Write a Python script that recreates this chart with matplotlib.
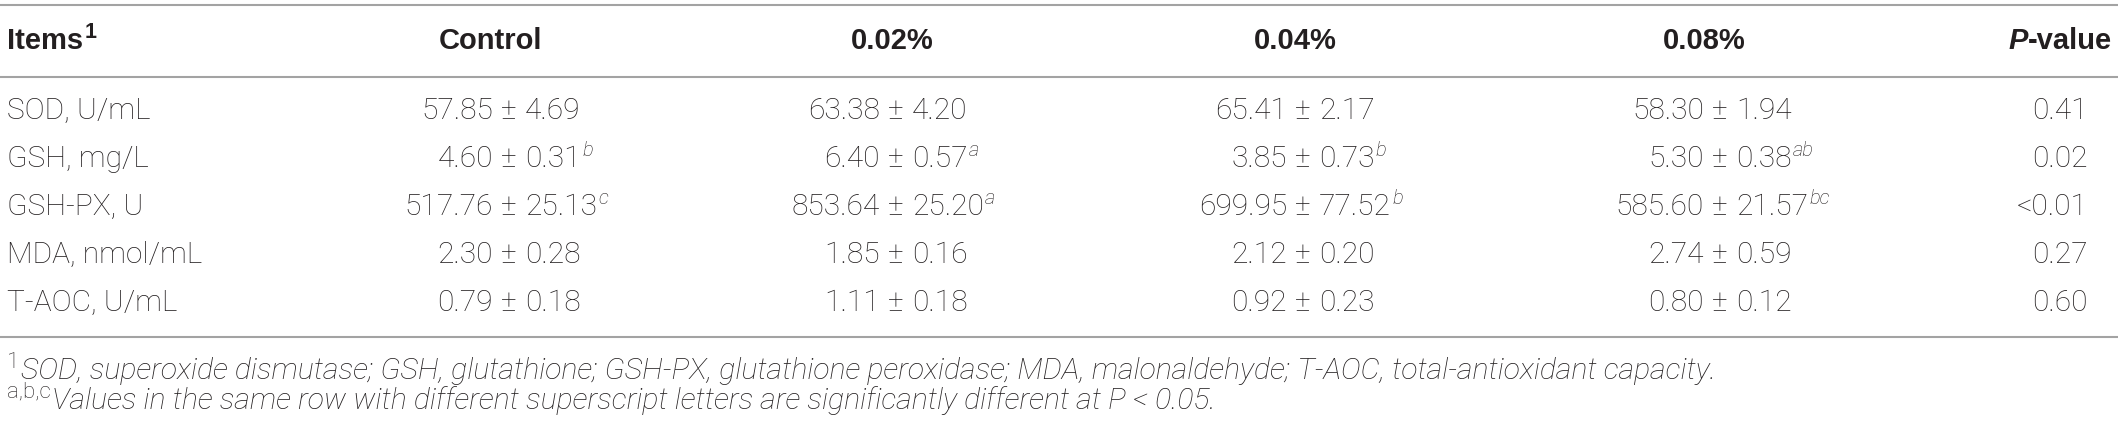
import matplotlib
matplotlib.use("Agg")
import matplotlib.pyplot as plt

# ---------------- data ----------------
items = ["SOD, U/mL", "GSH, mg/L", "GSH-PX, U", "MDA, nmol/mL", "T-AOC, U/mL"]
groups = ["Control", "0.02%", "0.04%", "0.08%"]

control_mean = [57.85, 4.60, 517.76, 2.30, 0.79]
control_sd = [4.69, 0.31, 25.13, 0.28, 0.18]
control_sup = ["", "b", "c", "", ""]

g002_mean = [63.38, 6.40, 853.64, 1.85, 1.11]
g002_sd = [4.20, 0.57, 25.20, 0.16, 0.18]
g002_sup = ["", "a", "a", "", ""]

g004_mean = [65.41, 3.85, 699.95, 2.12, 0.92]
g004_sd = [2.17, 0.73, 77.52, 0.20, 0.23]
g004_sup = ["", "b", "b", "", ""]

g008_mean = [58.30, 5.30, 585.60, 2.74, 0.80]
g008_sd = [1.94, 0.38, 21.57, 0.59, 0.12]
g008_sup = ["", "ab", "bc", "", ""]

p_values = ["0.41", "0.02", "<0.01", "0.27", "0.60"]

footnote1 = ("SOD, superoxide dismutase; GSH, glutathione; GSH-PX, glutathione peroxidase; "
             "MDA, malonaldehyde; T-AOC, total-antioxidant capacity.")
footnote2 = "Values in the same row with different superscript letters are significantly different at P < 0.05."

# ---------------- layout ----------------
W, H = 2118, 429
FONT = ["Roboto", "Liberation Sans", "DejaVu Sans"]
BFONT = ["Liberation Sans", "DejaVu Sans"]
TXT = "#231f20"
LINE = "#a3a3a3"
FS = 21.5
SUP_FS = 14.5
FN_FS = 21.8
FN_SUP_FS = 16
LW = "light"

fig = plt.figure(figsize=(W / 100, H / 100), dpi=100)
ax = fig.add_axes([0, 0, 1, 1])
ax.set_xlim(0, W)
ax.set_ylim(H, 0)
ax.axis("off")

# rules
for y in (5, 77, 337):
    ax.plot([0, W], [y, y], color=LINE, lw=1.5, solid_capstyle="butt")

header_y = 41
row_y = [111, 159, 207, 255, 303]
left_x = 7
pm_x = [509, 896, 1303, 1720]
head_x = [491, 892, 1295, 1704]
p_right = 2088
p_head_right = 2112


def sup_after(txt_artist, s, y, fs=SUP_FS, style="italic", weight=LW, family=FONT):
    return ax.annotate(s, xy=(1, y), xycoords=(txt_artist, "data"), xytext=(1, 0),
                       textcoords="offset points", ha="left", va="center",
                       fontsize=fs, fontstyle=style, fontweight=weight,
                       family=family, color=TXT)


# header
t = ax.text(left_x, header_y, "Items", ha="left", va="center", fontsize=FS - 0.5,
            fontweight="bold", family=BFONT, color=TXT)
sup_after(t, "1", header_y - 8, fs=SUP_FS + 1, style="normal", weight="bold", family=BFONT)
for gx, g in zip(head_x, groups):
    ax.text(gx, header_y, g, ha="center", va="center", fontsize=FS - 0.5,
            fontweight="bold", family=BFONT, color=TXT)
tv = ax.text(p_head_right, header_y, "-value", ha="right", va="center", fontsize=FS - 0.5,
             fontweight="bold", family=BFONT, color=TXT)
ax.annotate("P", xy=(0, header_y), xycoords=(tv, "data"), ha="right", va="center",
            fontsize=FS - 0.5, fontweight="bold", fontstyle="italic", family=BFONT, color=TXT)

# body
cols = [(control_mean, control_sd, control_sup),
        (g002_mean, g002_sd, g002_sup),
        (g004_mean, g004_sd, g004_sup),
        (g008_mean, g008_sd, g008_sup)]

for i, (item, y) in enumerate(zip(items, row_y)):
    ax.text(left_x, y, item, ha="left", va="center", fontsize=FS,
            fontweight=LW, family=FONT, color=TXT)
    for (means, sds, sups), px in zip(cols, pm_x):
        ax.text(px - 16, y, f"{means[i]:.2f}", ha="right", va="center",
                fontsize=FS, fontweight=LW, family=FONT, color=TXT)
        ax.text(px, y, "\u00b1", ha="center", va="center",
                fontsize=FS, fontweight=LW, family=FONT, color=TXT)
        r = ax.text(px + 16, y, f"{sds[i]:.2f}", ha="left", va="center",
                    fontsize=FS, fontweight=LW, family=FONT, color=TXT)
        if sups[i]:
            sup_after(r, sups[i], y - 9)
    ax.text(p_right, y, p_values[i], ha="right", va="center", fontsize=FS,
            fontweight=LW, family=FONT, color=TXT)

# footnotes
s1 = ax.text(left_x, 363, "1", ha="left", va="center", fontsize=FN_SUP_FS,
             fontweight=LW, family=FONT, color=TXT)
ax.annotate(footnote1, xy=(1, 371), xycoords=(s1, "data"), xytext=(1, 0),
            textcoords="offset points", ha="left", va="center",
            fontsize=FN_FS, fontstyle="italic", fontweight=LW, family=FONT, color=TXT)
s2 = ax.text(left_x, 392, "a,b,c", ha="left", va="center", fontsize=FN_SUP_FS,
             fontweight=LW, family=FONT, color=TXT)
ax.annotate(footnote2, xy=(1, 401), xycoords=(s2, "data"), xytext=(1, 0),
            textcoords="offset points", ha="left", va="center",
            fontsize=FN_FS, fontstyle="italic", fontweight=LW, family=FONT, color=TXT)

fig.savefig("out.png", dpi=100)
